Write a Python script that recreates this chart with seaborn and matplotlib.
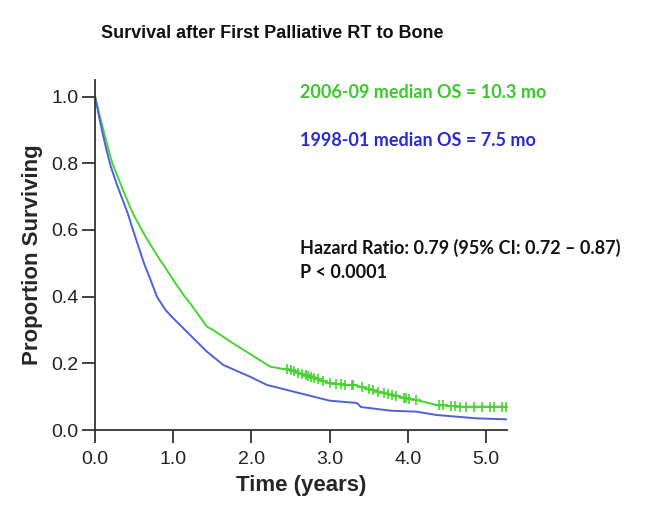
import numpy as np
import pandas as pd
import matplotlib
matplotlib.use("Agg")
import matplotlib.pyplot as plt
import seaborn as sns

# ---- data ----
green_time = [0, 0.05, 0.1, 0.16, 0.22, 0.30, 0.4, 0.486, 0.62, 0.71, 0.83, 0.86, 1.0, 1.13, 1.215,
              1.43, 1.51, 1.73, 2.07, 2.24, 2.41, 2.5, 2.75, 3.0, 3.35, 3.55, 3.78, 4.11, 4.37,
              4.7, 5.27]
green_surv = [1.0, 0.95, 0.905, 0.85, 0.80, 0.753, 0.695, 0.648, 0.59, 0.555, 0.51, 0.50, 0.45, 0.405,
              0.38, 0.31, 0.30, 0.265, 0.215, 0.19, 0.183, 0.18, 0.16, 0.14, 0.133, 0.12, 0.105,
              0.09, 0.075, 0.07, 0.07]
blue_time = [0, 0.05, 0.1, 0.15, 0.2, 0.28, 0.42, 0.47, 0.625, 0.71, 0.79, 0.9, 1.0, 1.215, 1.43,
             1.64, 1.98, 2.2, 2.54, 3.0, 3.35, 3.4, 3.78, 4.11, 4.37, 4.88, 5.27]
blue_surv = [1.0, 0.94, 0.885, 0.835, 0.79, 0.735, 0.648, 0.61, 0.50, 0.45, 0.40, 0.36, 0.335, 0.285,
             0.235, 0.195, 0.16, 0.135, 0.115, 0.088, 0.081, 0.069, 0.058, 0.055, 0.045, 0.035, 0.032]
green_censor = [2.45, 2.5, 2.55, 2.6, 2.65, 2.7, 2.72, 2.76, 2.8, 2.85, 2.92, 3.0, 3.08, 3.15,
                3.2, 3.28, 3.3, 3.42, 3.5, 3.56, 3.62, 3.7, 3.75, 3.8, 3.85, 3.95, 3.98, 4.02,
                4.1, 4.4, 4.45, 4.55, 4.6, 4.67, 4.75, 4.85, 4.95, 5.05, 5.1, 5.2, 5.25]
x_ticks = [0, 1, 2, 3, 4, 5]
x_ticklabels = ["0.0", "1.0", "2.0", "3.0", "4.0", "5.0"]
y_ticks = [0.0, 0.2, 0.4, 0.6, 0.8, 1.0]
y_ticklabels = ["0.0", "0.2", "0.4", "0.6", "0.8", "1.0"]

GREEN = "#45d62e"
GREEN_TXT = "#3cc82c"
BLUE = "#4d62d8"
BLUE_TXT = "#2a2ad0"

sns.set_theme(style="ticks")
plt.rcParams["font.family"] = ["Liberation Sans", "DejaVu Sans"]

fig = plt.figure(figsize=(6.56, 5.15), dpi=100)
ax = fig.add_axes([0.145, 0.165, 0.628, 0.680])

df = pd.concat([
    pd.DataFrame({"time": green_time, "surv": green_surv, "grp": "2006-09"}),
    pd.DataFrame({"time": blue_time, "surv": blue_surv, "grp": "1998-01"}),
])
sns.lineplot(data=df, x="time", y="surv", hue="grp", estimator=None, sort=True,
             palette={"2006-09": GREEN, "1998-01": BLUE}, linewidth=1.4,
             legend=False, ax=ax)

cens_y = np.interp(green_censor, green_time, green_surv)
sns.scatterplot(x=green_censor, y=cens_y, marker="+", color=GREEN, s=45,
                linewidth=1.2, ax=ax, legend=False)

ax.set_xlim(0, 5.27)
ax.set_ylim(0, 1.05)
ax.set_xticks(x_ticks)
ax.set_xticklabels(x_ticklabels)
ax.set_yticks(y_ticks)
ax.set_yticklabels(y_ticklabels)
ax.tick_params(axis="both", labelsize=14, length=9.4, width=1.3, color="#333333",
               labelcolor="#222222")
ax.tick_params(axis="x", pad=6)
ax.tick_params(axis="y", pad=2.5)
for s in ["top", "right"]:
    ax.spines[s].set_visible(False)
for s in ["left", "bottom"]:
    ax.spines[s].set_linewidth(1.3)
    ax.spines[s].set_color("#333333")
ax.set_xlabel("Time (years)", fontsize=16, fontweight="bold", labelpad=5)
ax.set_ylabel("Proportion Surviving", fontsize=16, fontweight="bold", labelpad=6)

fig.text(0.415, 0.935, "Survival after First Palliative RT to Bone", ha="center",
         va="center", fontsize=13, fontweight="bold", color="#111111")

tf = ["Lato", "DejaVu Sans"]
fig.text(300/656, 1 - 92/515, "2006-09 median OS = 10.3 mo", ha="left", va="center",
         fontsize=13, fontweight="bold", color=GREEN_TXT, family=tf)
fig.text(300/656, 1 - 140/515, "1998-01 median OS = 7.5 mo", ha="left", va="center",
         fontsize=13, fontweight="bold", color=BLUE_TXT, family=tf)
fig.text(300/656, 1 - 248/515, "Hazard Ratio: 0.79 (95% CI: 0.72 \u2013 0.87)", ha="left",
         va="center", fontsize=13, fontweight="bold", color="#111111", family=tf)
fig.text(300/656, 1 - 272/515, "P < 0.0001", ha="left", va="center",
         fontsize=13, fontweight="bold", color="#111111", family=tf)

fig.savefig("out.png", dpi=100, facecolor="white")
